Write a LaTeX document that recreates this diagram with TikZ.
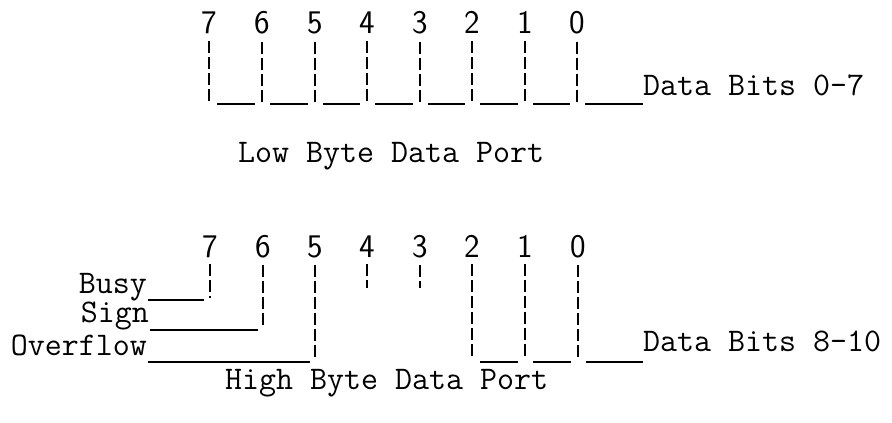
\documentclass[tikz,border=0pt]{standalone}
\usepackage{fontspec}
\usetikzlibrary{positioning}
\tikzstyle{bitnum} = [
    inner sep=0pt,
    anchor=base,
    font=\fontsize{33}{36}\selectfont\sffamily
]
\tikzstyle{tag} = [
    inner sep=0pt,
    font=\fontsize{33}{36}\selectfont\ttfamily
]
\tikzstyle{bitline} = [
    draw,
    line width=1.2pt,
    dash pattern=on 12pt off 4pt,
    shorten <=7pt,
    shorten >=2pt
]
\tikzstyle{uline} = [
    draw,
    line width=1.6pt,
    shorten <=8pt,
    shorten >=7pt
]

\begin{document}
\begin{tikzpicture}[x = 1pt, y = -1pt]
\useasboundingbox (0,0) rectangle (892,423);

% low byte
\node[bitnum] (l7) at (209,34) {7};
\node[bitnum] (l6) at (262,34) {6};
\node[bitnum] (l5) at (315,34) {5};
\node[bitnum] (l4) at (367,34) {4};
\node[bitnum] (l3) at (420,34) {3};
\node[bitnum] (l2) at (472,34) {2};
\node[bitnum] (l1) at (525,34) {1};
\node[bitnum] (l0) at (577,34) {0};

\node[tag, anchor=base west] (lowbits) at (643,95)  {Data Bits 0-7};
\node[tag, anchor=base west] (lowport) at (238,162) {Low Byte Data Port};

\foreach \b/\x in {7/209,6/262,5/315,4/367,3/420,2/472,1/525,0/577}
    \coordinate (lu\b) at (\x,104);

\draw[bitline] (l7) -- (lu7);
\draw[bitline] (l6) -- (lu6);
\draw[bitline] (l5) -- (lu5);
\draw[bitline] (l4) -- (lu4);
\draw[bitline] (l3) -- (lu3);
\draw[bitline] (l2) -- (lu2);
\draw[bitline] (l1) -- (lu1);
\draw[bitline] (l0) -- (lu0);

\draw[uline] (lu7) -- (lu6);
\draw[uline] (lu6) -- (lu5);
\draw[uline] (lu5) -- (lu4);
\draw[uline] (lu4) -- (lu3);
\draw[uline] (lu3) -- (lu2);
\draw[uline] (lu2) -- (lu1);
\draw[uline] (lu1) -- (lu0);
\draw[uline, shorten >=0pt] (lu0) -- (lu0 -| lowbits.west);

% high byte
\node[bitnum] (h7) at (210,257) {7};
\node[bitnum] (h6) at (263,257) {6};
\node[bitnum] (h5) at (315,257) {5};
\node[bitnum] (h4) at (367,257) {4};
\node[bitnum] (h3) at (420,257) {3};
\node[bitnum] (h2) at (472,257) {2};
\node[bitnum] (h1) at (525,257) {1};
\node[bitnum] (h0) at (578,257) {0};

\node[tag, anchor=base east] (busy)     at (147,293) {Busy};
\node[tag, anchor=base east] (sign)     at (149,322) {Sign};
\node[tag, anchor=base east] (overflow) at (147,355) {Overflow};
\node[tag, anchor=base west] (highbits) at (643,351) {Data Bits 8-10};
\node[tag, anchor=base west] (highport) at (225,389) {High Byte Data Port};

\coordinate (hu7) at (210,300);
\coordinate (hu6) at (263,330);
\coordinate (hu5) at (315,362);
\coordinate (hs4) at (367,290);
\coordinate (hs3) at (420,290);
\coordinate (hu2) at (472,362);
\coordinate (hu1) at (525,362);
\coordinate (hu0) at (578,362);

\draw[bitline] (h7) -- (hu7);
\draw[bitline] (h6) -- (hu6);
\draw[bitline] (h5) -- (hu5);
\draw[bitline] (h4) -- (hs4);
\draw[bitline] (h3) -- (hs3);
\draw[bitline] (h2) -- (hu2);
\draw[bitline] (h1) -- (hu1);
\draw[bitline] (h0) -- (hu0);

\draw[uline, shorten <=1pt, shorten >=6pt] (busy.east |- hu7)     -- (hu7);
\draw[uline, shorten <=1pt, shorten >=5pt] (sign.east |- hu6)     -- (hu6);
\draw[uline, shorten <=1pt, shorten >=5pt] (overflow.east |- hu5) -- (hu5);
\draw[uline] (hu2) -- (hu1);
\draw[uline] (hu1) -- (hu0);
\draw[uline, shorten >=0pt] (hu0) -- (hu0 -| highbits.west);
\end{tikzpicture}
\end{document}
